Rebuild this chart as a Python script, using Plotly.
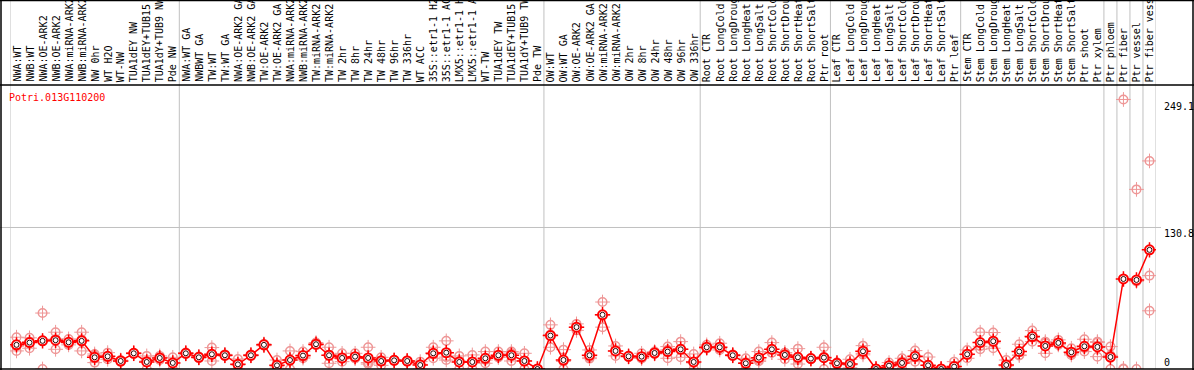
import plotly.graph_objects as go

W, H = 1194, 370

gene_id = "Potri.013G110200"

labels = [
    "NWA:WT", "NWB:WT", "NWA:OE-ARK2", "NWB:OE-ARK2", "NWA:miRNA-ARK2", "NWB:miRNA-ARK2",
    "NW 0hr", "WT H2O", "WT-NW", "TUA1dEY NW", "TUA1dEY+TUB15 NW", "TUA1dY+TUB9 NW", "Pde NW",
    "NWA:WT GA", "NWBWT GA", "TW:WT", "TW:WT GA", "NWA:OE-ARK2 GA", "NWB:OE-ARK2 GA",
    "TW:OE-ARK2", "TW:OE-ARK2 GA", "NWA:miRNA-ARK2", "NWB:miRNA-ARK2", "TW:miRNA-ARK2",
    "TW:miRNA-ARK2", "TW 2hr", "TW 8hr", "TW 24hr", "TW 48hr", "TW 96hr", "TW 336hr", "WT ACC",
    "35S::etr1-1 H2O", "35S::etr1-1 ACC", "LMX5::etr1-1 H2O", "LMX5::etr1-1 ACC", "WT-TW",
    "TUA1dEY TW", "TUA1dEY+TUB15 TW", "TUA1dY+TUB9 TW", "Pde TW",
    "OW:WT", "OW:WT GA", "OW:OE-ARK2", "OW:OE-ARK2 GA", "OW:miRNA-ARK2", "OW:miRNA-ARK2",
    "OW 2hr", "OW 8hr", "OW 24hr", "OW 48hr", "OW 96hr", "OW 336hr",
    "Root CTR", "Root LongCold", "Root LongDrought", "Root LongHeat", "Root LongSalt",
    "Root ShortCold", "Root ShortDrought", "Root ShortHeat", "Root ShortSalt", "Ptr root",
    "Leaf CTR", "Leaf LongCold", "Leaf LongDrought", "Leaf LongHeat", "Leaf LongSalt",
    "Leaf ShortCold", "Leaf ShortDrought", "Leaf ShortHeat", "Leaf ShortSalt", "Ptr leaf",
    "Stem CTR", "Stem LongCold", "Stem LongDrought", "Stem LongHeat", "Stem LongSalt",
    "Stem ShortCold", "Stem ShortDrought", "Stem ShortHeat", "Stem ShortSalt", "Ptr shoot",
    "Ptr xylem", "Ptr phloem", "Ptr fiber", "Ptr vessel", "Ptr fiber vessel",
]

group_sizes = [13, 28, 12, 10, 10, 11, 1, 1, 1, 1]

mean_vals = [
    22.3, 24.4, 26.0, 26.6, 24.7, 26.0, 10.8, 11.7, 7.4, 14.5, 6.5, 10.2, 5.6,
    14.5, 10.8, 13.6, 12.7, 4.3, 12.7, 22.3, 3.4, 8.3, 12.4, 22.9, 12.7, 10.2, 11.4, 10.2,
    7.4, 8.0, 7.4, 3.7, 14.5, 15.1, 6.5, 6.5, 9.9, 12.7, 12.7, 7.4, 0.0,
    30.9, 8.3, 38.7, 12.7, 50.1, 16.7, 11.7, 11.4, 14.8, 16.1, 18.2, 6.5,
    20.1, 20.1, 12.7, 5.3, 10.5, 18.2, 13.0, 10.8, 9.6, 10.5,
    5.3, 4.6, 16.4, 0.0, 3.1, 5.6, 11.7, 3.4, 0.0, 2.2,
    13.6, 24.4, 25.7, 3.7, 16.1, 30.0, 21.3, 24.1, 15.5, 21.0, 20.4,
    11.1, 83.2, 82.3, 110.1,
]

rep_a = [
    29.4, 28.8, 51.7, 34.0, 27.8, 34.0, 13.9, 15.1, 8.3, 14.8, 12.1, 12.1, 10.8,
    15.2, 10.0, 19.8, 12.0, 9.3, 12.0, 23.2, 8.3, 16.7, 16.1, 24.4, 20.1, 14.5, 14.5, 20.1,
    10.8, 7.5, 7.0, 6.8, 20.1, 26.0, 12.1, 13.0, 16.1, 16.1, 16.1, 14.5, 0.0,
    40.8, 17.9, 41.7, 17.6, 61.9, 21.3, 11.0, 14.5, 16.1, 20.7, 25.3, 13.9,
    22.3, 23.8, 12.0, 9.9, 16.1, 24.4, 15.1, 18.8, 9.0, 20.1,
    4.0, 9.0, 21.6, 0.0, 5.9, 9.9, 17.0, 11.1, 0.0, 6.8,
    17.6, 34.0, 33.7, 8.3, 22.9, 35.5, 25.3, 26.9, 19.2, 27.5, 25.3,
    20.7, 249.1, 166.0, 192.3,
]

rep_b = [
    16.7, 19.2, 0.0, 18.2, 22.3, 16.7, 5.9, 9.0, 6.8, 14.0, 0.0, 8.3, 0.0,
    13.8, 11.5, 7.4, 13.5, 0.0, 13.4, 21.5, 0.0, 0.0, 10.0, 22.0, 5.3, 6.8, 9.9, 5.9,
    3.4, 8.5, 7.8, 0.0, 9.9, 8.3, 0.0, 0.0, 8.3, 11.4, 7.4, 0.0, 0.0,
    20.1, 0.0, 38.7, 9.6, 38.7, 12.1, 12.3, 9.9, 13.9, 9.9, 10.8, 0.0,
    19.0, 17.6, 13.4, 0.0, 8.3, 15.1, 9.0, 9.0, 10.2, 0.0,
    6.0, 3.7, 14.5, 0.0, 0.0, 0.0, 6.8, 0.0, 0.0, 0.0,
    9.9, 18.2, 19.2, 0.0, 13.0, 25.3, 14.5, 22.3, 13.0, 16.1, 11.4,
    0.0, 0.0, 0.0, 86.3,
]

rep_c = [
    21.0, 25.2, 26.3, 27.6, 24.0, 27.3, 12.6, 11.0, 7.1, 14.7, 7.4, 10.2, 6.0,
    14.5, 10.9, 13.6, 12.6, 3.6, 12.7, 22.2, 2.0, 8.2, 11.1, 22.3, 12.7, 9.3, 9.8, 4.6,
    8.0, 8.0, 7.4, 4.3, 13.5, 11.0, 7.4, 6.5, 5.3, 10.6, 14.6, 7.7, 0.0,
    31.8, 7.0, 35.7, 10.9, 49.7, 16.7, 11.7, 9.8, 14.4, 17.7, 18.5, 5.6,
    19.0, 18.9, 12.7, 6.0, 7.1, 15.1, 14.9, 4.6, 9.6, 11.4,
    5.9, 1.1, 13.1, 0.0, 3.4, 6.9, 11.3, 0.0, 0.0, 0.0,
    13.3, 21.0, 24.2, 2.8, 12.4, 29.2, 24.1, 23.1, 14.3, 19.4, 24.5,
    12.6, 0.5, 81.0, 53.8,
]

y_marks = [249.1, 130.8, 0]

# ---------------------------------------------------------------
n = len(labels)
xs = list(range(n))

def px_x(p):
    return p / W

def px_y(p):
    return 1 - p / H

PLOT_L, PLOT_R = 10, 1156
PLOT_T, PLOT_B = 86, 369
SCALE = 1.082  # px per unit
y_top = (PLOT_B - PLOT_T) / SCALE

RED = "#ff0000"
PINK = "rgb(238,150,150)"

fig = go.Figure()

# replicate points
rx, ry = [], []
for reps in (rep_a, rep_b, rep_c):
    for i, v in enumerate(reps):
        if v is not None:
            rx.append(i)
            ry.append(v)
fig.add_trace(go.Scatter(
    x=rx, y=ry, mode="markers",
    marker=dict(symbol="cross-thin-open", size=10.5, color=PINK,
                line=dict(width=1, color=PINK)),
    hoverinfo="skip", showlegend=False,
))
fig.add_trace(go.Scatter(
    x=rx, y=ry, mode="markers",
    marker=dict(symbol="circle", size=8.5, color="rgba(255,255,255,0)",
                line=dict(width=1.5, color=PINK)),
    hoverinfo="skip", showlegend=False,
))

# mean line
fig.add_trace(go.Scatter(
    x=xs, y=mean_vals, mode="lines",
    line=dict(color=RED, width=1.5),
    showlegend=False, hoverinfo="skip",
))
fig.add_trace(go.Scatter(
    x=xs, y=mean_vals, mode="markers",
    marker=dict(symbol="cross-thin-open", size=11, color=RED,
                line=dict(width=1.5, color=RED)),
    showlegend=False, hoverinfo="skip",
))
fig.add_trace(go.Scatter(
    x=xs, y=mean_vals, mode="markers",
    marker=dict(symbol="circle", size=9, color="white",
                line=dict(width=2, color=RED)),
    showlegend=False, hoverinfo="skip",
))
fig.add_trace(go.Scatter(
    x=xs, y=mean_vals, mode="markers",
    marker=dict(symbol="circle-open", size=5, color="#300000",
                line=dict(width=1, color="#300000")),
    showlegend=False, text=labels, hovertemplate="%{text}: %{y}<extra></extra>",
))

shapes = []
# vertical group separators
bounds = [-0.5]
acc = -0.5
for g in group_sizes:
    acc += g
    bounds.append(acc)
for b in bounds:
    shapes.append(dict(type="line", xref="x", yref="paper", x0=b, x1=b,
                       y0=px_y(PLOT_B), y1=1, line=dict(color="#c0c0c0", width=1),
                       layer="below"))
# horizontal grid line at middle mark
shapes.append(dict(type="line", xref="paper", yref="y", x0=0, x1=px_x(1161),
                   y0=y_marks[1], y1=y_marks[1], line=dict(color="#c0c0c0", width=1),
                   layer="below"))
# black frame and header divider
blk = dict(color="#000000", width=1.5)
shapes += [
    dict(type="line", xref="paper", yref="paper", x0=0, x1=1, y0=px_y(85), y1=px_y(85), line=blk),
    dict(type="line", xref="paper", yref="paper", x0=px_x(1), x1=px_x(1), y0=0, y1=1, line=blk),
    dict(type="line", xref="paper", yref="paper", x0=px_x(1193), x1=px_x(1193), y0=0, y1=1, line=blk),
    dict(type="line", xref="paper", yref="paper", x0=0, x1=1, y0=px_y(0.5), y1=px_y(0.5), line=blk),
    dict(type="line", xref="paper", yref="paper", x0=0, x1=1, y0=px_y(369), y1=px_y(369), line=blk),
]

annotations = []
mono = "DejaVu Sans Mono, Liberation Mono, monospace"
for i, lab in enumerate(labels):
    annotations.append(dict(
        x=i, y=px_y(83), xref="x", yref="paper", text=lab, showarrow=False,
        textangle=-90, xanchor="center", yanchor="bottom",
        font=dict(family=mono, size=10, color="#000000"), borderpad=0,
    ))

annotations.append(dict(
    x=px_x(7), y=px_y(97), xref="paper", yref="paper", text=gene_id, showarrow=False,
    xanchor="left", yanchor="middle", font=dict(family=mono, size=10, color=RED),
))

ylab_pix = {249.1: 107, 130.8: 233, 0: 362}
for v in y_marks:
    annotations.append(dict(
        x=px_x(1162), y=px_y(ylab_pix[v]), xref="paper", yref="paper",
        text=f"{v:g}", showarrow=False, xanchor="left", yanchor="middle",
        font=dict(family=mono, size=10, color="#000000"),
    ))

fig.update_layout(
    width=W, height=H,
    margin=dict(l=0, r=0, t=0, b=0),
    paper_bgcolor="white", plot_bgcolor="rgba(0,0,0,0)",
    xaxis=dict(domain=[px_x(PLOT_L), px_x(PLOT_R)], range=[-0.5, n - 0.5],
               showgrid=False, zeroline=False, showticklabels=False, ticks="",
               showline=False, fixedrange=True),
    yaxis=dict(domain=[px_y(PLOT_B), px_y(PLOT_T)], range=[0, y_top],
               showgrid=False, zeroline=False, showticklabels=False, ticks="",
               showline=False, fixedrange=True),
    shapes=shapes, annotations=annotations, showlegend=False,
)

fig.write_html(
    "out.html",
    config={"displayModeBar": False},
    post_script="document.body.style.margin='0';document.body.style.overflow='hidden';",
)
